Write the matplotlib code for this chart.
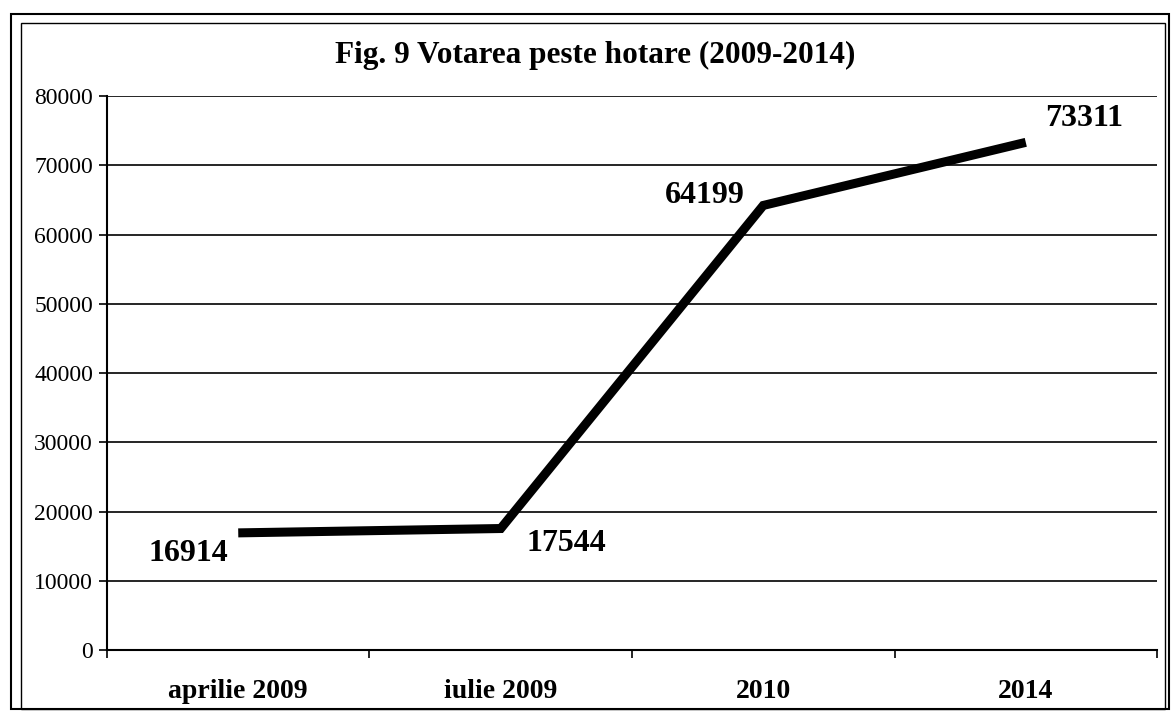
import matplotlib
matplotlib.use("Agg")
import matplotlib.pyplot as plt
from matplotlib.patches import Rectangle
import numpy as np

categories = ["aprilie 2009", "iulie 2009", "2010", "2014"]
votes = [16914, 17544, 64199, 73311]
# label offsets (points) relative to each point
label_dx = [-36, 47, -42, 42]
label_dy = [-15, -11, 7, 17]

plt.rcParams["font.family"] = ["Liberation Serif", "DejaVu Serif"]

fig = plt.figure(figsize=(11.73, 7.15), dpi=100)
ax = fig.add_axes([0.0912, 0.0909, 0.8952, 0.7748])

xs = np.arange(len(categories))
ax.plot(xs, votes, color="black", lw=6.5, solid_capstyle="butt", solid_joinstyle="miter", zorder=3)
for x, v, dx, dy in zip(xs, votes, label_dx, label_dy):
    ax.annotate(str(v), (x, v), xytext=(dx, dy), textcoords="offset points",
                ha="center", va="center", fontsize=23, fontweight="bold")

ax.set_xlim(-0.5, len(categories) - 0.5)
ax.set_ylim(0, 80000)
ax.set_yticks(range(0, 80001, 10000))
ax.yaxis.grid(True, color="black", lw=1.2)
ax.set_axisbelow(True)
ax.set_xticks(xs)
ax.set_xticklabels(categories, fontsize=20, fontweight="bold")
ax.set_xticks(np.arange(-0.5, len(categories)), minor=True)
ax.tick_params(axis="x", which="major", length=0, pad=21)
ax.tick_params(axis="x", which="minor", length=6, width=1.2, direction="out")
ax.tick_params(axis="y", length=6, width=1.2, labelsize=17, pad=4)
for s in ["top", "right"]:
    ax.spines[s].set_visible(False)
ax.spines["left"].set_linewidth(1.5)
ax.spines["bottom"].set_linewidth(1.5)

fig.text(0.507, 0.923, "Fig. 9 Votarea peste hotare (2009-2014)", ha="center", va="center",
         fontsize=22.5, fontweight="bold")

# outer frame like the scanned original
fig.add_artist(Rectangle((0.009, 0.008), 0.988, 0.972, transform=fig.transFigure,
                         fill=False, lw=1.5, ec="black"))
fig.add_artist(Rectangle((0.018, 0.008), 0.975, 0.96, transform=fig.transFigure,
                         fill=False, lw=1.0, ec="black"))

fig.savefig("out.png", dpi=100)
